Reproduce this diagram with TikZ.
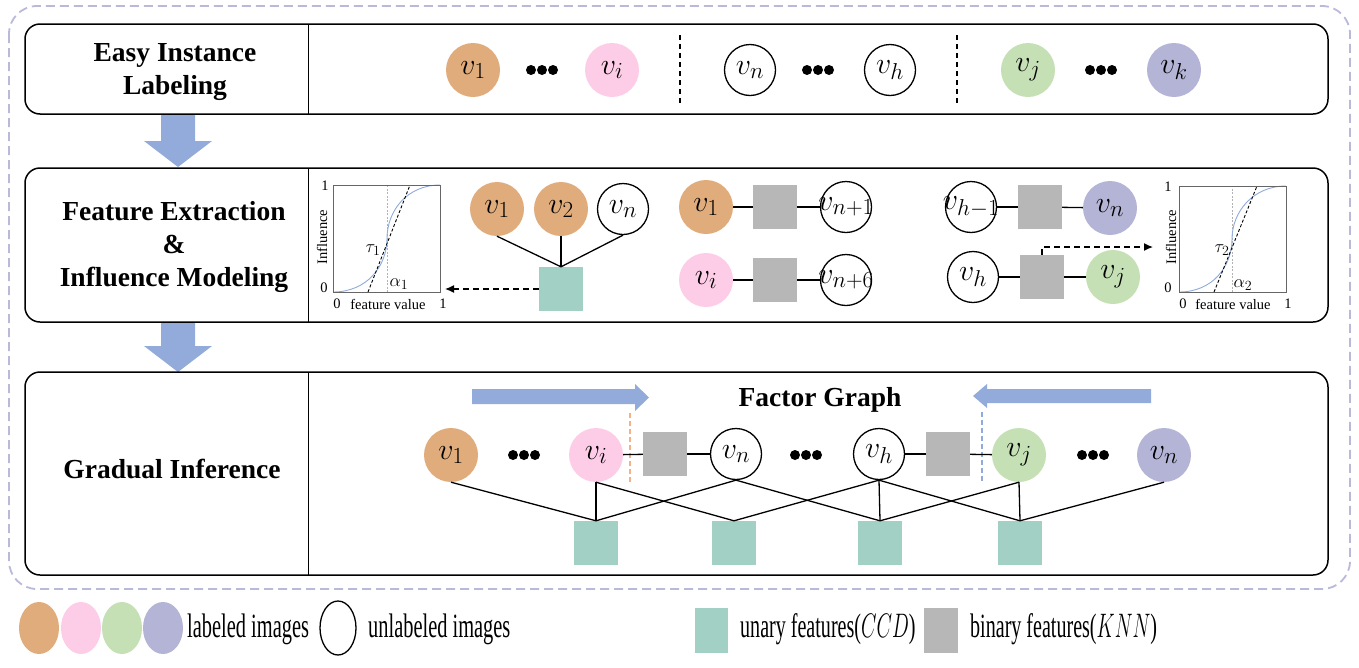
\RequirePackage{fix-cm}
\documentclass[tikz,border=0pt]{standalone}
\usepackage{fontspec}
\setmainfont{Liberation Serif}
\usetikzlibrary{arrows.meta}
\DeclareMathSizes{30}{30}{23}{17}
\DeclareMathSizes{18}{18}{14}{10}
\definecolor{cbrown}{HTML}{E0AC7C}
\definecolor{cpink}{HTML}{FDCDE8}
\definecolor{cgreen}{HTML}{C5E0B4}
\definecolor{cpurple}{HTML}{B4B4D6}
\definecolor{cteal}{HTML}{A2D0C4}
\definecolor{cgray}{HTML}{B7B7B7}
\definecolor{cblue}{HTML}{92ABDB}
\definecolor{cdash}{HTML}{B9B9DB}
\definecolor{corange}{HTML}{F4B183}
\definecolor{ccurve}{HTML}{8FAADC}
\newcommand\vlab[1]{\makebox[0pt]{$v_{#1}$}}
\newcommand\tdots[2]{\fill (#1-11,#2) circle (5pt) (#1,#2) circle (5pt) (#1+11,#2) circle (5pt);}
\begin{document}
\begin{tikzpicture}[x=1pt,y=-1pt,
  vfill/.style={circle,draw=none,minimum size=54pt,inner sep=0pt,font=\fontsize{30}{32}\selectfont},
  vbrown/.style={vfill,fill=cbrown},
  vpink/.style={vfill,fill=cpink},
  vgreen/.style={vfill,fill=cgreen},
  vpurple/.style={vfill,fill=cpurple},
  vwhite/.style={circle,draw=black,fill=white,line width=1.3pt,minimum size=51pt,inner sep=0pt,font=\fontsize{30}{32}\selectfont},
  tsq/.style={rectangle,fill=cteal,minimum size=44pt,inner sep=0pt},
  gsq/.style={rectangle,fill=cgray,minimum size=44pt,inner sep=0pt},
  conn/.style={line width=1.3pt},
  rowbox/.style={draw=black,line width=1.5pt,rounded corners=15pt},
  rowlabel/.style={font=\fontsize{27.5}{33}\selectfont\bfseries,align=center},
  plotlab/.style={font=\fontsize{14.5}{16}\selectfont,inner sep=0pt},
  plotmath/.style={font=\fontsize{18}{20}\selectfont,inner sep=0pt},
  leglab/.style={font=\fontsize{34}{38}\selectfont,inner sep=0pt,anchor=base west},
  dasharrow/.style={line width=1.3pt,dash pattern=on 6pt off 4pt,-{Latex[length=9pt,width=8pt]}},
  bigarrow/.style={fill=cblue,draw=none}
]
\useasboundingbox (0,0) rectangle (1359,667);

% outer dashed frame
\draw[cdash,line width=1.8pt,dash pattern=on 9pt off 5pt,rounded corners=28pt] (9,6) rectangle (1350,589);

% down arrows
\fill[bigarrow] (161,114) -- (195,114) -- (195,141) -- (212,141) -- (178,167) -- (144,141) -- (161,141) -- cycle;
\fill[bigarrow] (161,322) -- (195,322) -- (195,346) -- (212,346) -- (178,372) -- (144,346) -- (161,346) -- cycle;

% row boxes
\draw[rowbox] (25,24) rectangle (1328,114);
\draw[rowbox] (25,168) rectangle (1328,322);
\draw[rowbox] (25,372) rectangle (1328,575);
\draw[line width=1pt] (308,24) -- (308,114);
\draw[line width=1pt] (308,168) -- (308,322);
\draw[line width=1pt] (308,372) -- (308,575);

\node[rowlabel] (lab1) at (175,72) {Easy Instance\\Labeling};
\node[rowlabel] (lab2) at (174,247) {Feature Extraction\\\&\\Influence Modeling};
\node[rowlabel] (lab3) at (172,469) {Gradual Inference};

% ---------- row 1 ----------
\node[vbrown] (a1) at (473,70) {\vlab{1}};
\tdots{542}{70}
\node[vpink] (a2) at (612,70) {\vlab{i}};
\draw[line width=1.3pt,dash pattern=on 5pt off 4pt] (680,35) -- (680,103);
\node[vwhite] (a3) at (750,70) {\vlab{n}};
\tdots{818}{70}
\node[vwhite] (a4) at (890,70) {\vlab{h}};
\draw[line width=1.3pt,dash pattern=on 5pt off 4pt] (957,35) -- (957,103);
\node[vgreen] (a5) at (1028,70) {\vlab{j}};
\tdots{1101}{70}
\node[vpurple] (a6) at (1174,70) {\vlab{k}};

% ---------- row 2 ----------
% plot 1
\begin{scope}[shift={(333,292)}]
  \draw[gray!60,line width=0.6pt,dash pattern=on 2pt off 1.5pt] (54,0) -- (54,-107);
  \draw[ccurve,line width=0.9pt] (0,0) .. controls (34,0) and (54,-26) .. (54,-53.5) .. controls (54,-81) and (74,-107) .. (107,-107);
  \draw[black,line width=0.9pt,dash pattern=on 3pt off 2pt] (35,0) -- (77,-107);
  \draw[gray!80!black,line width=0.8pt] (0,0) rectangle (107,-107);
  \node[plotlab] (p1y1) at (-8,-106) {1};
  \node[plotlab] (p1y0) at (-9,-4) {0};
  \node[plotlab] (p1x0) at (4,12) {0};
  \node[plotlab] (p1x1) at (110,12) {1};
  \node[plotlab] (p1xl) at (55,12) {feature value};
  \node[plotlab,rotate=90] (p1yl) at (-11,-55) {Influence};
  \node[plotmath] (p1t) at (40,-42) {$\tau_1$};
  \node[plotmath] (p1a) at (66,-8) {$\alpha_1$};
\end{scope}
% plot 2
\begin{scope}[shift={(1179,292)}]
  \draw[gray!60,line width=0.6pt,dash pattern=on 2pt off 1.5pt] (53,0) -- (53,-106);
  \draw[ccurve,line width=0.9pt] (0,0) .. controls (34,0) and (53,-26) .. (53,-53) .. controls (53,-80) and (74,-106) .. (107,-106);
  \draw[black,line width=0.9pt,dash pattern=on 3pt off 2pt] (35,0) -- (78,-106);
  \draw[gray!80!black,line width=0.8pt] (0,0) rectangle (107,-106);
  \node[plotlab] (p2y1) at (-11,-105) {1};
  \node[plotlab] (p2y0) at (-11,-4) {0};
  \node[plotlab] (p2x0) at (4,12) {0};
  \node[plotlab] (p2x1) at (109,12) {1};
  \node[plotlab] (p2xl) at (54,12) {feature value};
  \node[plotlab,rotate=90] (p2yl) at (-8,-55) {Influence};
  \node[plotmath] (p2t) at (43,-42) {$\tau_2$};
  \node[plotmath] (p2a) at (64,-7) {$\alpha_2$};
\end{scope}

% unary factor group
\node[vbrown] (b1) at (497,209) {\vlab{1}};
\node[vbrown] (b2) at (561,209) {\vlab{2}};
\node[vwhite] (b3) at (623,209) {\vlab{n}};
\node[tsq] (bt) at (561,289) {};
\draw[conn] (b1.south) -- (bt.north);
\draw[conn] (b2.south) -- (bt.north);
\draw[conn] (b3.south) -- (bt.north);
\coordinate (bend) at (445,289);
\draw[dasharrow] (bt.west) -- (bend);

% binary factor pairs (middle)
\node[vbrown] (c1) at (706,207) {\vlab{1}};
\node[gsq] (cg1) at (775,207) {};
\node[vwhite] (c2) at (846,207) {\vlab{n+1}};
\draw[conn] (c1) -- (cg1);
\draw[conn] (cg1) -- (c2);
\node[vpink] (c3) at (706,280) {\vlab{i}};
\node[gsq] (cg2) at (775,280) {};
\node[vwhite] (c4) at (846,280) {\vlab{n+6}};
\draw[conn] (c3) -- (cg2);
\draw[conn] (cg2) -- (c4);

% binary factor pairs (right)
\node[vwhite] (d1) at (971,207) {\vlab{h-1}};
\node[gsq] (dg1) at (1040,207) {};
\node[vpurple] (d2) at (1110,208) {\vlab{n}};
\draw[conn] (d1) -- (dg1);
\draw[conn] (dg1) -- (d2);
\node[vwhite] (d3) at (973,277) {\vlab{h}};
\node[gsq] (dg2) at (1042,277) {};
\node[vgreen] (d4) at (1113,277) {\vlab{j}};
\draw[conn] (d3) -- (dg2);
\draw[conn] (dg2) -- (d4);
\coordinate (dend) at (1153,247);
\draw[dasharrow] (dg2.north) |- (dend);

% ---------- row 3 ----------
\fill[bigarrow] (472,389) -- (635,389) -- (635,384) -- (649,397.5) -- (635,411) -- (635,404) -- (472,404) -- cycle;
\fill[bigarrow] (1151,389) -- (987,389) -- (987,384) -- (973,396) -- (987,408) -- (987,403) -- (1151,403) -- cycle;
\node[rowlabel] (fg) at (820,400) {Factor Graph};
\draw[corange,line width=1.3pt,dash pattern=on 5pt off 3pt] (630,413) -- (630,483);
\draw[ccurve,line width=1.3pt,dash pattern=on 5pt off 3pt] (982,412) -- (982,482);

\node[tsq] (t1) at (596,543) {};
\node[tsq] (t2) at (734,543) {};
\node[tsq] (t3) at (880,543) {};
\node[tsq] (t4) at (1020,543) {};

\node[vbrown] (e1) at (451,455) {\vlab{1}};
\tdots{524}{455}
\node[vpink] (e2) at (596,455) {\vlab{i}};
\node[gsq] (eg1) at (665,454) {};
\node[vwhite] (e3) at (736,454) {\vlab{n}};
\tdots{806}{455}
\node[vwhite] (e4) at (879,454) {\vlab{h}};
\node[gsq] (eg2) at (948,454) {};
\node[vgreen] (e5) at (1019,455) {\vlab{j}};
\tdots{1093}{455}
\node[vpurple] (e6) at (1164,455) {\vlab{n}};
\draw[conn] (e2) -- (eg1);
\draw[conn] (eg1) -- (e3);
\draw[conn] (e4) -- (eg2);
\draw[conn] (eg2) -- (e5);

\draw[conn] (e1.south) -- (t1.north);
\draw[conn] (e2.south) -- (t1.north);
\draw[conn] (e2.south) -- (t2.north);
\draw[conn] (e3.south) -- (t1.north);
\draw[conn] (e3.south) -- (t3.north);
\draw[conn] (e4.south) -- (t2.north);
\draw[conn] (e4.south) -- (t3.north);
\draw[conn] (e4.south) -- (t4.north);
\draw[conn] (e5.south) -- (t3.north);
\draw[conn] (e5.south) -- (t4.north);
\draw[conn] (e6.south) -- (t4.north);

% ---------- legend ----------
\fill[cbrown] (39,628) ellipse (20pt and 26pt);
\fill[cpink] (81,628) ellipse (20pt and 26pt);
\fill[cgreen] (122,628) ellipse (20pt and 26pt);
\fill[cpurple] (163,628) ellipse (20pt and 26pt);
\node[leglab] (l1) at (187,637) {\scalebox{0.6}[1]{labeled images}};
\draw[line width=1.3pt] (338,628) ellipse (18pt and 27pt);
\node[leglab] (l2) at (368,637) {\scalebox{0.6}[1]{unlabeled images}};
\fill[cteal] (695,608) rectangle (728,653);
\node[leglab] (l3) at (740,637) {\scalebox{0.59}[1]{unary features($CCD$)}};
\fill[cgray] (924,608) rectangle (958,653);
\node[leglab] (l4) at (970,637) {\scalebox{0.59}[1]{binary features($KNN$)}};
\end{tikzpicture}
\end{document}
